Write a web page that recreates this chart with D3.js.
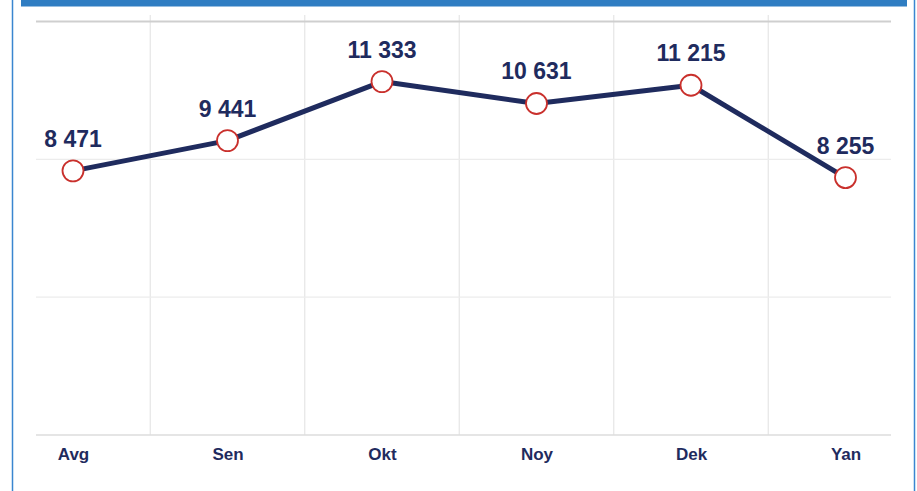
<!DOCTYPE html>
<html>
<head>
<meta charset="utf-8">
<script src="https://cdn.jsdelivr.net/npm/d3@7"></script>
<style>
  html, body { margin: 0; padding: 0; background: #fff; }
  svg { display: block; font-family: "Liberation Sans", Arial, sans-serif; }
</style>
</head>
<body>
<svg width="917" height="491"></svg>
<script>
const months = ["Avg", "Sen", "Okt", "Noy", "Dek", "Yan"];
const values = [8471, 9441, 11333, 10631, 11215, 8255];
const yTicks = [0, 4420, 8840, 13260];

const svg = d3.select("svg");
const width = +svg.attr("width");
const height = +svg.attr("height");

const fmt = v => d3.format(",")(v).replace(/,/g, " ");

// frame
svg.append("rect").attr("x", 21).attr("y", 0).attr("width", 886).attr("height", 6.5).attr("fill", "#2f7dc2");
svg.append("line").attr("x1", 12.5).attr("x2", 12.5).attr("y1", 0).attr("y2", height)
  .attr("stroke", "#3a86d0").attr("stroke-width", 1.5);
svg.append("line").attr("x1", 914.5).attr("x2", 914.5).attr("y1", 0).attr("y2", height)
  .attr("stroke", "#3a86d0").attr("stroke-width", 1.5);

const xScale = d3.scalePoint()
  .domain(months)
  .range([73, 845.5]);

const yScale = d3.scaleLinear()
  .domain([0, 13260])
  .range([435, 21.5]);

// vertical grid between months
const step = xScale.step();
svg.append("g").selectAll("line")
  .data(months.slice(1))
  .join("line")
  .attr("x1", d => xScale(d) - step / 2)
  .attr("x2", d => xScale(d) - step / 2)
  .attr("y1", 15)
  .attr("y2", 435)
  .attr("stroke", "#e6e6e6")
  .attr("stroke-width", 1.2);

// horizontal grid
svg.append("g").selectAll("line")
  .data(yTicks)
  .join("line")
  .attr("x1", 36)
  .attr("x2", 891)
  .attr("y1", d => yScale(d))
  .attr("y2", d => yScale(d))
  .attr("stroke", (d, i) => i === 0 ? "#dcdcdc" : (i === yTicks.length - 1 ? "#cfcfcf" : "#ececec"))
  .attr("stroke-width", (d, i) => i === yTicks.length - 1 ? 1.8 : 1.3);

// x labels
svg.append("g")
  .attr("transform", `translate(0,435)`)
  .call(d3.axisBottom(xScale).tickSize(0).tickPadding(13))
  .call(g => g.select(".domain").remove())
  .call(g => g.selectAll("text")
    .attr("font-family", "Liberation Sans, Arial, sans-serif")
    .attr("font-size", 17)
    .attr("font-weight", "bold")
    .attr("fill", "#1f2b5e"));

const line = d3.line()
  .x((d, i) => xScale(months[i]))
  .y(d => yScale(d));

svg.append("path")
  .datum(values)
  .attr("fill", "none")
  .attr("stroke", "#1f2b5e")
  .attr("stroke-width", 5)
  .attr("stroke-linejoin", "round")
  .attr("d", line);

svg.append("g").selectAll("circle")
  .data(values)
  .join("circle")
  .attr("cx", (d, i) => xScale(months[i]))
  .attr("cy", d => yScale(d))
  .attr("r", 10.5)
  .attr("fill", "#fff")
  .attr("stroke", "#c9302c")
  .attr("stroke-width", 1.8);

svg.append("g").selectAll("text")
  .data(values)
  .join("text")
  .attr("x", (d, i) => xScale(months[i]))
  .attr("y", d => yScale(d) - 24)
  .attr("text-anchor", "middle")
  .attr("font-size", 23)
  .attr("font-weight", "bold")
  .attr("fill", "#1f2b5e")
  .text(d => fmt(d));
</script>
</body>
</html>
